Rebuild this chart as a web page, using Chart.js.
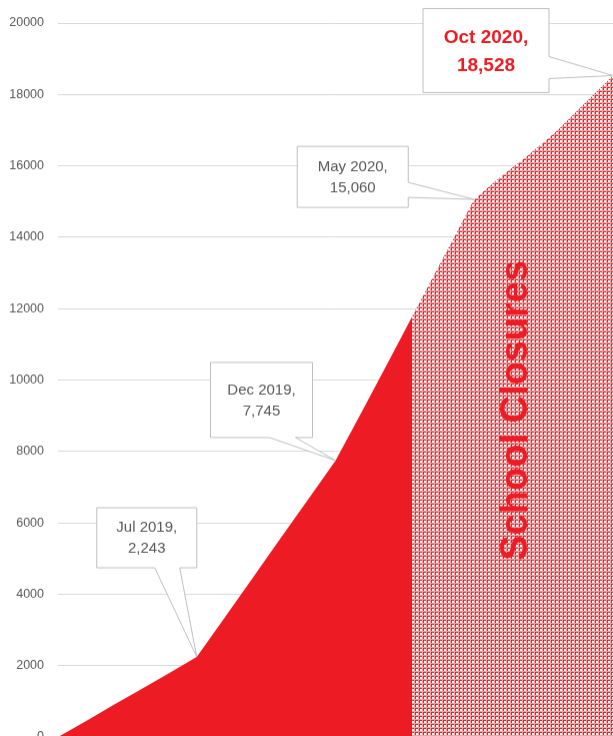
<!DOCTYPE html>
<html>
<head>
<meta charset="utf-8">
<script src="https://cdn.jsdelivr.net/npm/chart.js@4"></script>
<style>
    html, body { margin: 0; padding: 0; background: #fff; overflow: hidden; }
    #chart-container { position: relative; width: 613px; height: 736px; }
</style>
</head>
<body>
<div id="chart-container"><canvas id="closures-chart"></canvas></div>
<script>
// monthly cumulative totals
const monthLabels = [
    'Feb 2019', 'Mar 2019', 'Apr 2019', 'May 2019', 'Jun 2019', 'Jul 2019',
    'Aug 2019', 'Sep 2019', 'Oct 2019', 'Nov 2019', 'Dec 2019',
    'Jan 2020', 'Feb 2020', 'Mar 2020', 'Apr 2020', 'May 2020',
    'Jun 2020', 'Jul 2020', 'Aug 2020', 'Sep 2020', 'Oct 2020'
];
const totals = [
    0, 440, 900, 1340, 1790, 2243,
    3340, 4440, 5550, 6640, 7745,
    9190, 10650, 12130, 13600, 15060,
    15720, 16330, 16990, 17760, 18528
];
const yTicks = [0, 2000, 4000, 6000, 8000, 10000, 12000, 14000, 16000, 18000, 20000];

// school closures start mid-March 2020 (position on the month axis)
const closureStart = 12.76;
const closureLabel = 'School Closures';

// months that get a callout
const calloutMonths = ['Jul 2019', 'Dec 2019', 'May 2020', 'Oct 2020'];

const RED = '#ed1c24';
const GREY_TEXT = '#595959';
const PAGE_H = 736;

let fillCache = null;

// small grid pattern: white squares, pink body, red lines
function makeTile() {
    const tile = document.createElement('canvas');
    tile.width = 4;
    tile.height = 4;
    const t = tile.getContext('2d');
    t.fillStyle = '#f5a0a3';
    t.fillRect(0, 0, 4, 4);
    t.fillStyle = '#ffffff';
    t.fillRect(0, 0, 2, 2);
    t.fillStyle = RED;
    t.fillRect(3, 0, 1, 2);
    t.fillRect(0, 3, 2, 1);
    t.fillRect(3, 3, 1, 1);
    return tile;
}

function areaFill(context) {
    const chart = context.chart;
    const { ctx, chartArea, scales } = chart;
    if (!chartArea) return RED;
    const splitX = scales.x.getPixelForValue(closureStart);
    const key = chart.width + 'x' + chart.height + '@' + splitX;
    if (fillCache && fillCache.key === key) return fillCache.pattern;

    const off = document.createElement('canvas');
    off.width = chart.width;
    off.height = chart.height;
    const o = off.getContext('2d');
    o.fillStyle = RED;
    o.fillRect(0, 0, splitX, off.height);
    o.fillStyle = o.createPattern(makeTile(), 'repeat');
    o.fillRect(splitX, 0, off.width - splitX, off.height);

    fillCache = { key: key, pattern: ctx.createPattern(off, 'no-repeat') };
    return fillCache.pattern;
}

// callout box layout, offsets from the data point
const calloutStyle = {
    'Jul 2019': { dx: -100, dy: -149, w: 100, h: 60, side: 'bottom', b1: 58, b2: 83 },
    'Dec 2019': { dx: -125, dy: -98, w: 102, h: 75, side: 'bottom', b1: 59, b2: 85 },
    'May 2020': { dx: -177, dy: -53, w: 111, h: 61, side: 'right', b1: 36, b2: 51 },
    'Oct 2020': { dx: -190, dy: -67, w: 126, h: 84, side: 'right', b1: 48, b2: 70, big: true }
};

function drawCallout(ctx, px, py, s, lines) {
    const l = px + s.dx, t = py + s.dy, r = l + s.w, b = t + s.h;
    ctx.beginPath();
    ctx.moveTo(l, t);
    ctx.lineTo(r, t);
    if (s.side === 'right') {
        ctx.lineTo(r, t + s.b1);
        ctx.lineTo(px, py);
        ctx.lineTo(r, t + s.b2);
        ctx.lineTo(r, b);
        ctx.lineTo(l, b);
    } else {
        ctx.lineTo(r, b);
        ctx.lineTo(l + s.b2, b);
        ctx.lineTo(px, py);
        ctx.lineTo(l + s.b1, b);
        ctx.lineTo(l, b);
    }
    ctx.closePath();
    ctx.fillStyle = '#ffffff';
    ctx.fill();
    ctx.strokeStyle = '#bfbfbf';
    ctx.lineWidth = 1;
    ctx.stroke();

    const cx = (l + r) / 2, cy = (t + b) / 2;
    ctx.textAlign = 'center';
    ctx.textBaseline = 'middle';
    if (s.big) {
        ctx.font = 'bold 19px "Liberation Sans"';
        ctx.fillStyle = RED;
        ctx.fillText(lines[0], cx, cy - 13);
        ctx.fillText(lines[1], cx, cy + 15);
    } else {
        ctx.font = '15px "Liberation Sans"';
        ctx.fillStyle = GREY_TEXT;
        ctx.fillText(lines[0], cx, cy - 10);
        ctx.fillText(lines[1], cx, cy + 11);
    }
}

const annotationsPlugin = {
    id: 'annotations',
    afterDatasetsDraw(chart) {
        const { ctx, chartArea, scales } = chart;
        ctx.save();

        // vertical label over the closure area
        const splitX = scales.x.getPixelForValue(closureStart);
        ctx.translate((splitX + chartArea.right) / 2 + 4, scales.y.getPixelForValue(9150));
        ctx.rotate(-Math.PI / 2);
        ctx.font = 'bold 38px "Liberation Sans"';
        ctx.fillStyle = RED;
        ctx.textAlign = 'center';
        ctx.textBaseline = 'middle';
        ctx.fillText(closureLabel, 0, 0);
        ctx.restore();

        ctx.save();
        calloutMonths.forEach(m => {
            const i = monthLabels.indexOf(m);
            const px = scales.x.getPixelForValue(i);
            const py = scales.y.getPixelForValue(totals[i]);
            const lines = [m + ',', totals[i].toLocaleString('en-US')];
            drawCallout(ctx, px, py, calloutStyle[m], lines);
        });
        ctx.restore();
    }
};

const container = document.getElementById('chart-container');
const ctx = document.getElementById('closures-chart').getContext('2d');
const chart = new Chart(ctx, {
    type: 'line',
    data: {
        labels: monthLabels,
        datasets: [{
            data: totals,
            fill: 'origin',
            backgroundColor: areaFill,
            borderWidth: 0,
            pointRadius: 0,
            tension: 0
        }]
    },
    options: {
        responsive: true,
        maintainAspectRatio: false,
        animation: false,
        layout: { padding: { top: 23, right: 0, bottom: 0, left: 0 } },
        scales: {
            x: {
                display: false,
                offset: false
            },
            y: {
                min: 0,
                max: 20000,
                afterFit(scale) { scale.width = 58; },
                afterBuildTicks(scale) { scale.ticks = yTicks.map(v => ({ value: v })); },
                border: { display: false },
                grid: { color: '#d9d9d9', drawTicks: false, lineWidth: 1 },
                ticks: {
                    padding: 14,
                    color: GREY_TEXT,
                    font: { family: 'Liberation Sans', size: 12.5 },
                    callback: (value) => String(value)
                }
            }
        },
        plugins: {
            legend: { display: false },
            tooltip: { enabled: false }
        }
    },
    plugins: [annotationsPlugin]
});

// the zero line sits on the bottom edge of the page; let the rest get cut off
const gap = PAGE_H - chart.chartArea.bottom;
if (gap > 0) {
    container.style.height = (PAGE_H + gap) + 'px';
    chart.resize();
}
</script>
</body>
</html>
